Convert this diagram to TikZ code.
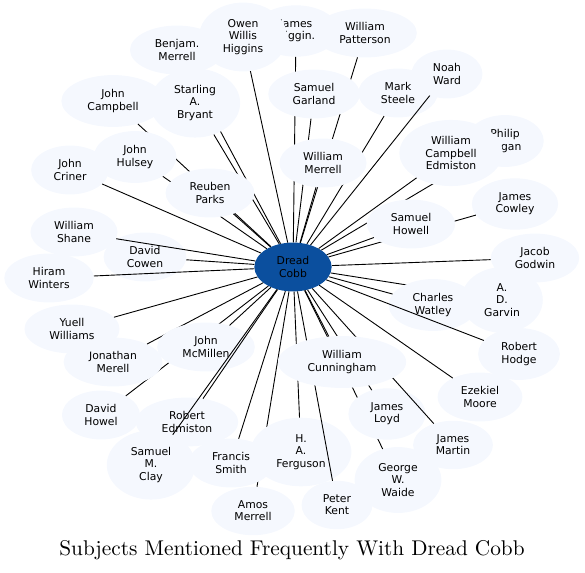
\documentclass[tikz,border=0pt]{standalone}
\usepackage{fontspec}
\newfontfamily\labelfont{DejaVu Sans}
\newfontfamily\titlefont{lmroman10-regular.otf}
\usetikzlibrary{shapes.geometric}
\definecolor{namefill}{HTML}{F5F8FE}
\definecolor{cobbblue}{HTML}{0B4F9E}
\tikzset{
  person/.style={ellipse, fill=namefill, align=center, inner xsep=11pt, inner ysep=7pt,
    font=\labelfont\fontsize{10.8}{12.2}\selectfont},
  hub/.style={person, fill=cobbblue},
  mention/.style={black, line width=0.9pt},
}
\begin{document}
\begin{tikzpicture}[x=1pt,y=-1pt]
  \useasboundingbox (0,0) rectangle (585,572);
  \node [hub] (cobb) at (293,267) {Dread\\Cobb};
  % top
  \node [person] (bmerrell) at (177,50) {Benjam.\\Merrell};
  \draw [mention] (cobb) -- (bmerrell);
  \node [person] (patterson) at (365,33) {William\\Patterson};
  \draw [mention] (cobb) -- (patterson);
  \node [person] (jhiggin) at (296,31) {James\\Higgin.};
  \draw [mention] (cobb) -- (jhiggin);
  \node [person] (owen) at (243,37) {Owen\\Willis\\Higgins};
  \draw [mention] (cobb) -- (owen);
  \node [person] (garland) at (314,94) {Samuel\\Garland};
  \draw [mention] (cobb) -- (garland);
  \node [person] (steele) at (398,93) {Mark\\Steele};
  \draw [mention] (cobb) -- (steele);
  \node [person] (ward) at (447,74) {Noah\\Ward};
  \draw [mention] (cobb) -- (ward);
  \node [person] (wmerrell) at (323,163) {William\\Merrell};
  \draw [mention] (cobb) -- (wmerrell);
  % upper left
  \node [person] (campbell) at (113,101) {John\\Campbell};
  \draw [mention] (cobb) -- (campbell);
  \node [person] (bryant) at (195,103) {Starling\\A.\\Bryant};
  \draw [mention] (cobb) -- (bryant);
  \node [person] (hulsey) at (135,157) {John\\Hulsey};
  \draw [mention] (cobb) -- (hulsey);
  \node [person] (criner) at (70,170) {John\\Criner};
  \draw [mention] (cobb) -- (criner);
  \node [person] (parks) at (210,193) {Reuben\\Parks};
  \draw [mention] (cobb) -- (parks);
  % right
  \node [person] (philip) at (505,141) {Philip\\Logan};
  \draw [mention] (cobb) -- (philip);
  \node [person] (wedmiston) at (451,153) {William\\Campbell\\Edmiston};
  \draw [mention] (cobb) -- (wedmiston);
  \node [person] (cowley) at (515,204) {James\\Cowley};
  \draw [mention] (cobb) -- (cowley);
  \node [person] (howell) at (411,224) {Samuel\\Howell};
  \draw [mention] (cobb) -- (howell);
  \node [person] (godwin) at (535,258) {Jacob\\Godwin};
  \draw [mention] (cobb) -- (godwin);
  \node [person] (garvin) at (502,300) {A.\\D.\\Garvin};
  \draw [mention] (cobb) -- (garvin);
  \node [person] (watley) at (433,305) {Charles\\Watley};
  \draw [mention] (cobb) -- (watley);
  \node [person] (hodge) at (519,354) {Robert\\Hodge};
  \draw [mention] (cobb) -- (hodge);
  % left
  \node [person] (cowen) at (145,257) {David\\Cowen};
  \draw [mention] (cobb) -- (cowen);
  \node [person] (shane) at (74,232) {William\\Shane};
  \draw [mention] (cobb) -- (shane);
  \node [person] (winters) at (49,278) {Hiram\\Winters};
  \draw [mention] (cobb) -- (winters);
  % lower left
  \node [person] (howel) at (101,415) {David\\Howel};
  \draw [mention] (cobb) -- (howel);
  \node [person] (jmerell) at (113,362) {Jonathan\\Merell};
  \draw [mention] (cobb) -- (jmerell);
  \node [person] (williams) at (72,329) {Yuell\\Williams};
  \draw [mention] (cobb) -- (williams);
  \node [person] (mcmillen) at (206,347) {John\\McMillen};
  \draw [mention] (cobb) -- (mcmillen);
  \node [person] (redmiston) at (187,422) {Robert\\Edmiston};
  \draw [mention] (cobb) -- (redmiston);
  \node [person] (clay) at (151,465) {Samuel\\M.\\Clay};
  \draw [mention] (cobb) -- (clay);
  % bottom
  \node [person] (amos) at (253,511) {Amos\\Merrell};
  \draw [mention] (cobb) -- (amos);
  \node [person] (smith) at (231,463) {Francis\\Smith};
  \draw [mention] (cobb) -- (smith);
  \node [person] (ferguson) at (301,452) {H.\\A.\\Ferguson};
  \draw [mention] (cobb) -- (ferguson);
  \node [person] (kent) at (337,505) {Peter\\Kent};
  \draw [mention] (cobb) -- (kent);
  \node [person] (waide) at (398,480) {George\\W.\\Waide};
  \draw [mention] (cobb) -- (waide);
  \node [person] (loyd) at (387,414) {James\\Loyd};
  \draw [mention] (cobb) -- (loyd);
  \node [person] (martin) at (453,445) {James\\Martin};
  \draw [mention] (cobb) -- (martin);
  \node [person] (moore) at (480,397) {Ezekiel\\Moore};
  \draw [mention] (cobb) -- (moore);
  \node [person] (cunningham) at (342,362) {William\\Cunningham};
  \draw [mention] (cobb) -- (cunningham);
  \node (title) at (292,550) {\titlefont\fontsize{21.3}{25}\selectfont Subjects Mentioned Frequently With Dread Cobb};
\end{tikzpicture}
\end{document}
